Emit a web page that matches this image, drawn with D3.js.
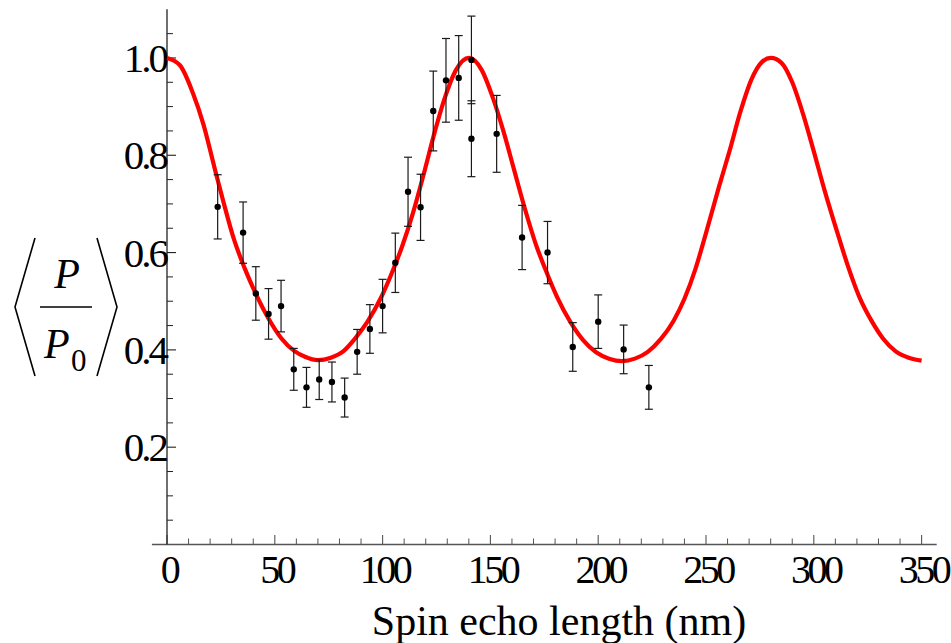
<!DOCTYPE html>
<html>
<head>
<meta charset="utf-8">
<script src="https://cdn.jsdelivr.net/npm/d3@7"></script>
<style>
  html, body { margin: 0; padding: 0; background: #fff; }
  svg { display: block; }
  text { font-family: "Liberation Serif", "DejaVu Serif", serif; fill: #000; }
</style>
</head>
<body>
<svg id="chart" width="951" height="643"></svg>
<script>
// Measured polarisation ratio vs spin echo length
const echoLength = [23.5, 35.3, 41.2, 47.1, 52.9, 58.8, 64.7, 70.6, 76.5, 82.4, 88.2, 94.1, 100.0, 105.9,
  111.8, 117.6, 123.5, 129.4, 135.3, 141.2, 141.2, 152.9, 164.7, 176.5, 188.2, 200.0, 211.8, 223.5];
const polarisation = [0.694, 0.641, 0.516, 0.474, 0.490, 0.360, 0.323, 0.339, 0.334, 0.302, 0.396, 0.443, 0.490, 0.579,
  0.725, 0.693, 0.891, 0.954, 0.959, 0.996, 0.834, 0.844, 0.631, 0.600, 0.406, 0.458, 0.401, 0.323];
const polarisationErr = [0.066, 0.063, 0.055, 0.052, 0.053, 0.043, 0.041, 0.041, 0.041, 0.040, 0.046, 0.050, 0.055, 0.061,
  0.071, 0.068, 0.082, 0.086, 0.087, 0.090, 0.078, 0.079, 0.066, 0.064, 0.050, 0.055, 0.050, 0.045];

// Model curve samples
const modelX = [0, 6, 12, 17, 22, 26, 31, 36, 41, 47, 53, 59, 64, 70, 76, 82, 87, 93, 99, 104, 109, 114, 119, 124,
  129, 134, 140, 146, 151, 156, 161, 166, 171, 176, 181, 187, 193, 199, 205, 211, 217, 223, 229, 235, 240, 245,
  250, 256, 261, 266, 271, 276, 280, 285, 290, 295, 300, 305, 311, 316, 321, 327, 332, 338, 344, 350];
const modelY = [1.000, 0.985, 0.928, 0.862, 0.775, 0.707, 0.628, 0.568, 0.517, 0.465, 0.424, 0.398, 0.386, 0.379,
  0.384, 0.398, 0.422, 0.458, 0.505, 0.555, 0.612, 0.680, 0.760, 0.845, 0.920, 0.975, 1.000, 0.975, 0.920, 0.850,
  0.770, 0.690, 0.618, 0.560, 0.508, 0.458, 0.420, 0.395, 0.382, 0.377, 0.382, 0.396, 0.422, 0.460, 0.505, 0.565,
  0.640, 0.735, 0.810, 0.890, 0.955, 0.992, 1.000, 0.990, 0.950, 0.885, 0.808, 0.728, 0.640, 0.570, 0.510, 0.458,
  0.424, 0.397, 0.384, 0.378];

const xMajor = [0, 50, 100, 150, 200, 250, 300, 350];
const yMajor = [0.2, 0.4, 0.6, 0.8, 1.0];

const svg = d3.select("#chart");

const x = d3.scaleLinear().domain([0, 350]).range([167, 921.6]);
const y = d3.scaleLinear().domain([0, 1.1]).range([544.5, 9.3]);

// ---- Axes ----
const xMinor = d3.range(0, 351, 10).filter(v => v % 50 !== 0);
const yMinor = d3.range(0.05, 1.1, 0.05).map(v => +v.toFixed(2)).filter(v => yMajor.indexOf(v) < 0 && v > 0);

const gx = svg.append("g");
gx.append("line")
  .attr("x1", x(-7)).attr("x2", x(357))
  .attr("y1", y(0)).attr("y2", y(0))
  .attr("stroke", "#555").attr("stroke-width", 1.3);
gx.selectAll("line.maj").data(xMajor).join("line")
  .attr("x1", d => x(d)).attr("x2", d => x(d))
  .attr("y1", y(0)).attr("y2", y(0) - 9.5)
  .attr("stroke", "#555").attr("stroke-width", 1.1);
gx.selectAll("line.min").data(xMinor).join("line")
  .attr("x1", d => x(d)).attr("x2", d => x(d))
  .attr("y1", y(0)).attr("y2", y(0) - 6)
  .attr("stroke", "#555").attr("stroke-width", 1);
gx.selectAll("text").data(xMajor).join("text")
  .attr("x", d => x(d) + 2)
  .attr("y", 583)
  .attr("text-anchor", "middle")
  .attr("font-size", 40)
  .attr("letter-spacing", "-3.5px")
  .text(d => d3.format("d")(d));

const gy = svg.append("g");
gy.append("line")
  .attr("x1", x(0)).attr("x2", x(0))
  .attr("y1", y(0)).attr("y2", y(1.1))
  .attr("stroke", "#222").attr("stroke-width", 1.3);
gy.selectAll("line.maj").data(yMajor).join("line")
  .attr("x1", x(0)).attr("x2", x(0) + 9)
  .attr("y1", d => y(d)).attr("y2", d => y(d))
  .attr("stroke", "#222").attr("stroke-width", 1.1);
gy.selectAll("line.min").data(yMinor).join("line")
  .attr("x1", x(0)).attr("x2", x(0) + 6)
  .attr("y1", d => y(d)).attr("y2", d => y(d))
  .attr("stroke", "#222").attr("stroke-width", 1);
gy.selectAll("text").data(yMajor).join("text")
  .attr("x", 166)
  .attr("y", d => y(d) + 14)
  .attr("text-anchor", "end")
  .attr("font-size", 41)
  .attr("letter-spacing", "-3px")
  .text(d => d3.format(".1f")(d));

// ---- Model curve ----
const line = d3.line()
  .x((d, i) => x(modelX[i]))
  .y(d => y(d))
  .curve(d3.curveMonotoneX);
svg.append("path")
  .attr("d", line(modelY))
  .attr("fill", "none")
  .attr("stroke", "#ff0000")
  .attr("stroke-width", 4.2)
  .attr("stroke-linejoin", "round");

// ---- Data with error bars ----
const pts = echoLength.map((v, i) => ({ x: v, y: polarisation[i], e: polarisationErr[i] }));
const gd = svg.append("g");
const bars = gd.selectAll("g.bar").data(pts).join("g");
bars.append("line")
  .attr("x1", d => x(d.x)).attr("x2", d => x(d.x))
  .attr("y1", d => y(d.y - d.e)).attr("y2", d => y(d.y + d.e))
  .attr("stroke", "#1a1a1a").attr("stroke-width", 1.2);
bars.append("line")
  .attr("x1", d => x(d.x) - 4).attr("x2", d => x(d.x) + 4)
  .attr("y1", d => y(d.y + d.e)).attr("y2", d => y(d.y + d.e))
  .attr("stroke", "#1a1a1a").attr("stroke-width", 1.2);
bars.append("line")
  .attr("x1", d => x(d.x) - 4).attr("x2", d => x(d.x) + 4)
  .attr("y1", d => y(d.y - d.e)).attr("y2", d => y(d.y - d.e))
  .attr("stroke", "#1a1a1a").attr("stroke-width", 1.2);
bars.append("circle")
  .attr("cx", d => x(d.x)).attr("cy", d => y(d.y))
  .attr("r", 3.2)
  .attr("fill", "#000");

// ---- Axis titles ----
svg.append("text")
  .attr("x", 559).attr("y", 635)
  .attr("text-anchor", "middle")
  .attr("font-size", 42)
  .text("Spin echo length (nm)");

const gl = svg.append("g");
// angle brackets
gl.append("path")
  .attr("d", "M35,238 L15,307 L35,376")
  .attr("fill", "none").attr("stroke", "#000").attr("stroke-width", 1.6);
gl.append("path")
  .attr("d", "M97,238 L117,307 L97,376")
  .attr("fill", "none").attr("stroke", "#000").attr("stroke-width", 1.6);
// fraction bar
gl.append("line")
  .attr("x1", 40).attr("x2", 92).attr("y1", 307).attr("y2", 307)
  .attr("stroke", "#000").attr("stroke-width", 1.6);
gl.append("text")
  .attr("x", 67).attr("y", 288)
  .attr("text-anchor", "middle")
  .attr("font-size", 42).attr("font-style", "italic")
  .text("P");
gl.append("text")
  .attr("x", 44).attr("y", 358)
  .attr("font-size", 42).attr("font-style", "italic")
  .text("P");
gl.append("text")
  .attr("x", 71).attr("y", 371)
  .attr("font-size", 31)
  .text("0");
</script>
</body>
</html>
